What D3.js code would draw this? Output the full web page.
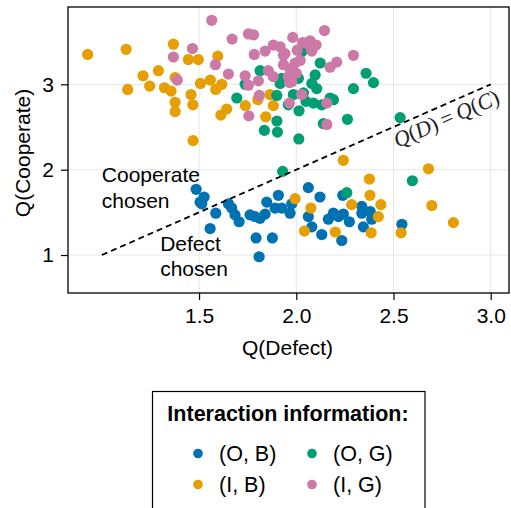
<!DOCTYPE html>
<html>
<head>
<meta charset="utf-8">
<script src="https://cdn.jsdelivr.net/npm/d3@7"></script>
<style>
  body { margin: 0; background: #fff; }
  text { font-family: "Liberation Sans", Arial, sans-serif; }
</style>
</head>
<body>
<div id="chart"></div>
<script>
// data
const obPoints = [[1.485,1.77],[1.526,1.68],[1.514,1.60],[1.505,1.62],[1.586,1.49],[1.557,1.31],[1.651,1.60],[1.668,1.55],[1.685,1.47],[1.706,1.39],[1.762,1.47],[1.788,1.45],[1.814,1.43],[1.840,1.48],[1.848,1.62],[1.908,1.70],[1.891,1.55],[1.925,1.55],[1.968,1.49],[1.977,1.60],[1.793,1.20],[1.877,1.20],[1.809,0.98],[2.062,1.79],[2.122,1.68],[2.239,1.70],[2.062,1.45],[2.080,1.33],[2.131,1.24],[2.165,1.42],[2.191,1.49],[2.217,1.45],[2.242,1.48],[2.273,1.39],[2.234,1.17],[2.337,1.57],[2.337,1.49],[2.380,1.51],[2.388,1.42],[2.345,1.33],[2.543,1.36]];
const ibPoints = [[0.927,3.35],[1.125,3.41],[1.368,3.47],[1.445,3.29],[1.496,3.29],[1.596,3.33],[1.212,3.10],[1.291,3.16],[1.377,3.08],[1.133,2.94],[1.246,2.98],[1.322,2.96],[1.356,2.92],[1.459,2.88],[1.507,3.01],[1.558,3.05],[1.617,3.00],[1.586,2.94],[1.377,2.79],[1.377,2.68],[1.468,2.76],[1.642,2.71],[1.612,2.64],[1.469,2.34],[1.738,2.75],[1.802,2.82],[1.882,2.75],[1.843,2.62],[1.865,2.88],[2.242,2.11],[2.680,2.01],[2.376,1.89],[2.379,1.70],[2.435,1.59],[2.697,1.58],[1.994,1.66],[2.075,1.55],[2.285,1.59],[2.422,1.45],[2.042,1.28],[2.201,1.27],[2.385,1.26],[2.539,1.26],[2.808,1.38]];
const ogPoints = [[1.694,2.84],[1.737,3.00],[1.814,3.16],[1.836,2.46],[1.900,2.87],[1.900,2.57],[1.903,2.44],[1.917,3.01],[1.925,3.07],[1.959,2.76],[1.985,2.88],[2.013,2.36],[2.014,2.69],[2.011,3.07],[2.028,3.38],[2.037,2.90],[2.088,2.78],[2.097,3.11],[2.105,2.95],[2.123,3.25],[2.131,2.76],[2.139,2.54],[2.174,2.84],[2.191,2.82],[2.263,2.59],[2.294,2.95],[2.359,3.13],[2.397,3.02],[2.534,2.61],[2.597,1.87],[2.260,1.73],[1.930,1.98],[2.050,2.80],[2.080,3.01]];
const igPoints = [[1.565,3.75],[1.670,3.53],[1.754,3.59],[1.780,3.58],[1.466,3.42],[1.368,3.32],[1.584,3.23],[1.651,3.12],[1.388,3.05],[1.737,3.10],[1.754,2.99],[1.805,3.04],[1.810,2.87],[1.756,2.63],[1.784,3.35],[1.840,3.39],[1.882,3.46],[1.917,3.44],[1.856,3.16],[1.882,3.09],[1.934,3.34],[2.145,3.63],[1.982,3.55],[2.033,3.49],[2.071,3.51],[2.102,3.46],[1.942,3.36],[2.080,3.39],[2.294,3.34],[2.208,3.26],[2.174,3.20],[2.020,3.28],[1.994,3.25],[1.934,3.23],[1.968,3.18],[1.959,3.09],[1.977,3.03],[1.965,3.02],[2.028,2.88],[1.965,2.78],[2.157,2.78],[2.157,2.53],[2.070,3.45],[2.000,3.13],[2.005,3.40]];

const seriesNames = ["(O, B)", "(I, B)", "(O, G)", "(I, G)"];
const seriesData = [obPoints, ibPoints, ogPoints, igPoints];
const seriesColors = ["#0072B2", "#E69F00", "#009E73", "#CC79A7"];

const xTicks = [1.5, 2.0, 2.5, 3.0];
const yTicks = [1, 2, 3];
const diagonal = [[1, 1], [3, 3]];
const coopLabel = ["Cooperate", "chosen"];
const defectLabel = ["Defect", "chosen"];

const width = 511, height = 508;
const plot = {left: 68, right: 509, top: 7, bottom: 293};

const svg = d3.select("#chart").append("svg")
  .attr("width", width)
  .attr("height", height);

const x = d3.scaleLinear().domain([0.826, 3.094]).range([plot.left, plot.right]);
const y = d3.scaleLinear().domain([0.555, 3.906]).range([plot.bottom, plot.top]);

// grid
svg.append("g").selectAll("line").data(xTicks).enter().append("line")
  .attr("x1", d => x(d)).attr("x2", d => x(d))
  .attr("y1", plot.top).attr("y2", plot.bottom)
  .attr("stroke", "#e6e6e6").attr("stroke-width", 1);
svg.append("g").selectAll("line").data(yTicks).enter().append("line")
  .attr("y1", d => y(d)).attr("y2", d => y(d))
  .attr("x1", plot.left).attr("x2", plot.right)
  .attr("stroke", "#e6e6e6").attr("stroke-width", 1);

// points
seriesData.forEach((pts, i) => {
  svg.append("g").selectAll("circle").data(pts).enter().append("circle")
    .attr("cx", d => x(d[0]))
    .attr("cy", d => y(d[1]))
    .attr("r", 5.6)
    .attr("fill", seriesColors[i]);
});

// dashed diagonal
svg.append("line")
  .attr("x1", x(diagonal[0][0])).attr("y1", y(diagonal[0][1]))
  .attr("x2", x(diagonal[1][0])).attr("y2", y(diagonal[1][1]))
  .attr("stroke", "#000").attr("stroke-width", 1.8)
  .attr("stroke-dasharray", "6,4");

const ang = Math.atan2(y(3) - y(1), x(3) - x(1)) * 180 / Math.PI;
const lx = x(2.77), ly = y(2.77) + 14;
const eq = svg.append("text")
  .attr("transform", `translate(${lx},${ly}) rotate(${ang})`)
  .attr("text-anchor", "middle")
  .attr("dominant-baseline", "central")
  .style("font-family", "'Liberation Serif', 'DejaVu Serif', serif")
  .style("font-size", "22px")
  .attr("fill", "#222");
[["Q", true], ["(", false], ["D", true], [")", false], ["\u2009=\u2009", false], ["Q", true], ["(", false], ["C", true], [")", false]]
  .forEach(p => eq.append("tspan").text(p[0]).style("font-style", p[1] ? "italic" : "normal"));

// region labels
svg.append("text").attr("x", x(1.0)).attr("y", y(1.855))
  .style("font-size", "21px")
  .selectAll("tspan").data(coopLabel).enter().append("tspan")
  .attr("x", x(1.0)).attr("dy", (d, i) => i ? 26 : 0).text(d => d);
svg.append("text").attr("x", x(1.3)).attr("y", y(1.047))
  .style("font-size", "21px")
  .selectAll("tspan").data(defectLabel).enter().append("tspan")
  .attr("x", x(1.3)).attr("dy", (d, i) => i ? 25 : 0).text(d => d);

// frame
svg.append("rect")
  .attr("x", plot.left).attr("y", plot.top)
  .attr("width", plot.right - plot.left).attr("height", plot.bottom - plot.top)
  .attr("fill", "none").attr("stroke", "#000").attr("stroke-width", 1.3);

// axes
const xAxis = svg.append("g")
  .attr("transform", `translate(0,${plot.bottom})`)
  .call(d3.axisBottom(x).tickValues(xTicks).tickFormat(d3.format(".1f")).tickSize(7).tickPadding(8));
const yAxis = svg.append("g")
  .attr("transform", `translate(${plot.left},0)`)
  .call(d3.axisLeft(y).tickValues(yTicks).tickFormat(d3.format("d")).tickSize(7).tickPadding(7));
[xAxis, yAxis].forEach(a => {
  a.select(".domain").remove();
  a.selectAll("text").style("font-family", "'Liberation Sans', Arial, sans-serif").style("font-size", "21px").attr("fill", "#000");
  a.selectAll("line").attr("stroke", "#000").attr("stroke-width", 1.2);
});

svg.append("text")
  .attr("x", (plot.left + plot.right) / 2 - 1).attr("y", 355)
  .attr("text-anchor", "middle").style("font-size", "21px")
  .text("Q(Defect)");
svg.append("text")
  .attr("transform", `translate(30,${(plot.top + plot.bottom) / 2 + 3}) rotate(-90)`)
  .attr("text-anchor", "middle").style("font-size", "21px")
  .text("Q(Cooperate)");

// legend
const lg = svg.append("g");
lg.append("rect")
  .attr("x", 152.5).attr("y", 391.5).attr("width", 272.5).attr("height", 130)
  .attr("fill", "none").attr("stroke", "#000").attr("stroke-width", 1.2);
lg.append("text")
  .attr("x", 288).attr("y", 421).attr("text-anchor", "middle")
  .style("font-size", "21.5px").style("font-weight", "bold")
  .text("Interaction information:");
seriesNames.forEach((name, i) => {
  const col = Math.floor(i / 2), row = i % 2;
  const mx = 198 + col * 114, my = 453.5 + row * 31;
  lg.append("circle").attr("cx", mx).attr("cy", my).attr("r", 4.8).attr("fill", seriesColors[i]);
  lg.append("text").attr("x", mx + 21).attr("y", my + 7.5)
    .style("font-size", "21.5px").text(name);
});
</script>
</body>
</html>
